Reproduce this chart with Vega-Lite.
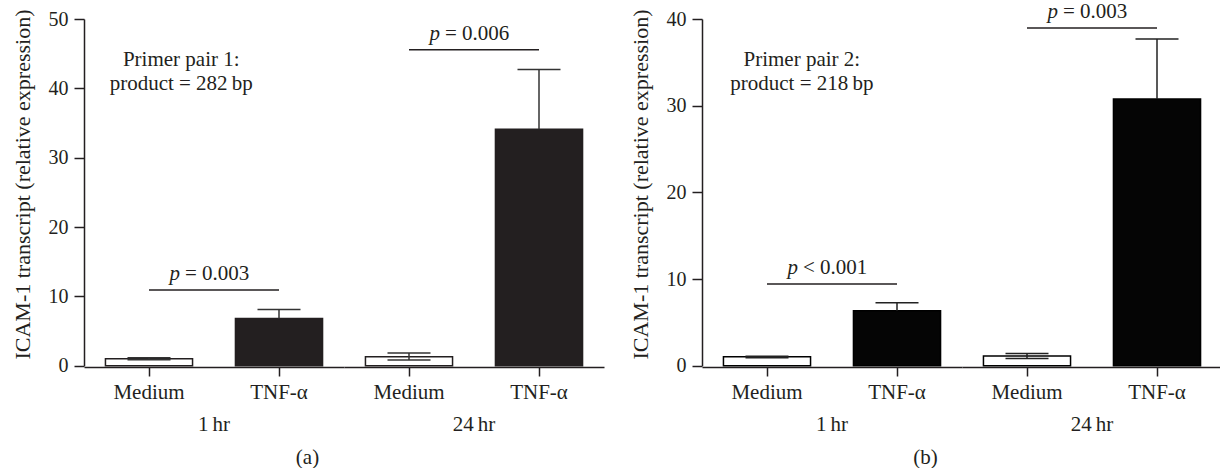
{
  "$schema": "https://vega.github.io/schema/vega-lite/v6.json",
  "padding": {"left": 11, "top": 1, "right": 0, "bottom": 0},
  "background": "white",
  "config": {
    "view": {"stroke": null},
    "font": "Liberation Serif",
    "axis": {"domainColor": "#231f20", "domainWidth": 1.5, "tickColor": "#231f20", "tickWidth": 1.5, "labelFont": "Liberation Serif", "labelFontSize": 21, "labelColor": "#231f20", "titleFont": "Liberation Serif", "titleFontSize": 21, "titleFontWeight": "normal", "titleColor": "#231f20", "grid": false},
    "axisY": {"tickSize": 10, "labelPadding": 6, "titlePadding": 14, "labelFontSize": 20, "titleFontSize": 22, "titleY": 165},
    "axisX": {"tickSize": 9, "labelPadding": 5, "labelAngle": 0},
    "header": {"labelFont": "Liberation Serif", "labelFontSize": 21, "labelColor": "#231f20"},
    "title": {"font": "Liberation Serif", "fontSize": 21, "fontWeight": "normal", "color": "#231f20"}
  },
  "spacing": 25,
  "resolve": {"scale": {"x": "independent", "y": "independent", "color": "independent"}},
  "hconcat": [
    {
      "data": {"values": [
        {"kind": "bar", "time": "1\u2009hr", "treatment": "Medium", "mean": 1.0, "lo": 0.87, "hi": 1.15},
        {"kind": "bar", "time": "1\u2009hr", "treatment": "TNF-α", "mean": 6.8, "lo": 6.8, "hi": 8.1},
        {"kind": "bar", "time": "24\u2009hr", "treatment": "Medium", "mean": 1.3, "lo": 0.82, "hi": 1.83},
        {"kind": "bar", "time": "24\u2009hr", "treatment": "TNF-α", "mean": 34.1, "lo": 34.1, "hi": 42.7},
        {"kind": "bracket", "time": "1\u2009hr", "treatment": "Medium", "to": "TNF-α", "y": 10.9, "p": "p", "label": "= 0.003"},
        {"kind": "bracket", "time": "24\u2009hr", "treatment": "Medium", "to": "TNF-α", "y": 45.55, "p": "p", "label": "= 0.006"},
        {"kind": "note", "time": "1\u2009hr", "treatment": "Medium", "y": 44.1, "note": ["Primer pair 1:", "product = 282\u2009bp"]}
      ]},
      "title": {"text": "(a)", "orient": "bottom", "anchor": "middle", "frame": "bounds", "offset": 12},
      "spacing": 0,
      "facet": {"column": {"field": "time", "type": "nominal", "sort": ["1\u2009hr", "24\u2009hr"], "header": {"title": null, "labelOrient": "bottom", "labelPadding": 12}}},
      "spec": {
        "width": 260,
        "height": 346.7,
        "layer": [
          {
            "transform": [{"filter": "datum.kind == 'bar'"}],
            "mark": {"type": "bar", "stroke": "#231f20", "strokeWidth": 1.5},
            "encoding": {
              "x": {"field": "treatment", "type": "nominal", "scale": {"domain": ["Medium", "TNF-α"], "paddingInner": 0.33, "paddingOuter": 0.165}, "axis": {"title": null}},
              "y": {"field": "mean", "type": "quantitative", "scale": {"domain": [0, 50], "nice": false}, "axis": {"title": "ICAM-1 transcript (relative expression)", "values": [0, 10, 20, 30, 40, 50]}},
              "color": {"field": "treatment", "type": "nominal", "scale": {"domain": ["Medium", "TNF-α"], "range": ["#ffffff", "#231f20"]}, "legend": null}
            }
          },
          {
            "transform": [{"filter": "datum.kind == 'bar'"}],
            "mark": {"type": "rule", "color": "#333333", "strokeWidth": 1.5},
            "encoding": {
              "x": {"field": "treatment", "type": "nominal"},
              "y": {"field": "lo", "type": "quantitative"},
              "y2": {"field": "hi"}
            }
          },
          {
            "transform": [{"filter": "datum.kind == 'bar'"}],
            "mark": {"type": "tick", "color": "#333333", "thickness": 1.5, "size": 43, "opacity": 1},
            "encoding": {
              "x": {"field": "treatment", "type": "nominal"},
              "y": {"field": "hi", "type": "quantitative"}
            }
          },
          {
            "transform": [{"filter": "datum.kind == 'bar' && datum.treatment == 'Medium'"}],
            "mark": {"type": "tick", "color": "#333333", "thickness": 1.5, "size": 43, "opacity": 1},
            "encoding": {
              "x": {"field": "treatment", "type": "nominal"},
              "y": {"field": "lo", "type": "quantitative"}
            }
          },
          {
            "transform": [{"filter": "datum.kind == 'bracket'"}],
            "mark": {"type": "rule", "color": "#231f20", "strokeWidth": 1.5},
            "encoding": {
              "x": {"field": "treatment", "type": "nominal"},
              "x2": {"field": "to"},
              "y": {"field": "y", "type": "quantitative"}
            }
          },
          {
            "transform": [{"filter": "datum.kind == 'bracket'"}],
            "mark": {"type": "text", "font": "Liberation Serif", "fontSize": 21, "color": "#231f20", "align": "left", "baseline": "alphabetic", "dy": -10, "dx": -29},
            "encoding": {
              "x": {"field": "treatment", "type": "nominal", "bandPosition": 1.246},
              "y": {"field": "y", "type": "quantitative"},
              "text": {"field": "label"}
            }
          },
          {
            "transform": [{"filter": "datum.kind == 'bracket'"}],
            "mark": {"type": "text", "font": "Liberation Serif", "fontSize": 21, "fontStyle": "italic", "color": "#231f20", "align": "right", "baseline": "alphabetic", "dy": -10, "dx": -34},
            "encoding": {
              "x": {"field": "treatment", "type": "nominal", "bandPosition": 1.246},
              "y": {"field": "y", "type": "quantitative"},
              "text": {"field": "p"}
            }
          },
          {
            "transform": [{"filter": "datum.kind == 'note'"}],
            "mark": {"type": "text", "font": "Liberation Serif", "fontSize": 21, "color": "#231f20", "align": "center", "baseline": "middle", "lineHeight": 24},
            "encoding": {
              "x": {"field": "treatment", "type": "nominal", "bandPosition": 0.87},
              "y": {"field": "y", "type": "quantitative"},
              "text": {"field": "note"}
            }
          }
        ]
      }
    },
    {
      "data": {"values": [
        {"kind": "bar", "time": "1\u2009hr", "treatment": "Medium", "mean": 1.02, "lo": 0.92, "hi": 1.1},
        {"kind": "bar", "time": "1\u2009hr", "treatment": "TNF-α", "mean": 6.35, "lo": 6.35, "hi": 7.27},
        {"kind": "bar", "time": "24\u2009hr", "treatment": "Medium", "mean": 1.12, "lo": 0.82, "hi": 1.42},
        {"kind": "bar", "time": "24\u2009hr", "treatment": "TNF-α", "mean": 30.77, "lo": 30.77, "hi": 37.7},
        {"kind": "bracket", "time": "1\u2009hr", "treatment": "Medium", "to": "TNF-α", "y": 9.42, "p": "p", "label": "< 0.001"},
        {"kind": "bracket", "time": "24\u2009hr", "treatment": "Medium", "to": "TNF-α", "y": 38.96, "p": "p", "label": "= 0.003"},
        {"kind": "note", "time": "1\u2009hr", "treatment": "Medium", "y": 35.27, "note": ["Primer pair 2:", "product = 218\u2009bp"]}
      ]},
      "title": {"text": "(b)", "orient": "bottom", "anchor": "middle", "frame": "bounds", "offset": 12},
      "spacing": 0,
      "facet": {"column": {"field": "time", "type": "nominal", "sort": ["1\u2009hr", "24\u2009hr"], "header": {"title": null, "labelOrient": "bottom", "labelPadding": 12}}},
      "spec": {
        "width": 260,
        "height": 346.7,
        "layer": [
          {
            "transform": [{"filter": "datum.kind == 'bar'"}],
            "mark": {"type": "bar", "stroke": "#000000", "strokeWidth": 1.5},
            "encoding": {
              "x": {"field": "treatment", "type": "nominal", "scale": {"domain": ["Medium", "TNF-α"], "paddingInner": 0.33, "paddingOuter": 0.165}, "axis": {"title": null}},
              "y": {"field": "mean", "type": "quantitative", "scale": {"domain": [0, 40], "nice": false}, "axis": {"title": "ICAM-1 transcript (relative expression)", "values": [0, 10, 20, 30, 40]}},
              "color": {"field": "treatment", "type": "nominal", "scale": {"domain": ["Medium", "TNF-α"], "range": ["#ffffff", "#050505"]}, "legend": null}
            }
          },
          {
            "transform": [{"filter": "datum.kind == 'bar'"}],
            "mark": {"type": "rule", "color": "#222222", "strokeWidth": 1.5},
            "encoding": {
              "x": {"field": "treatment", "type": "nominal"},
              "y": {"field": "lo", "type": "quantitative"},
              "y2": {"field": "hi"}
            }
          },
          {
            "transform": [{"filter": "datum.kind == 'bar'"}],
            "mark": {"type": "tick", "color": "#222222", "thickness": 1.5, "size": 43, "opacity": 1},
            "encoding": {
              "x": {"field": "treatment", "type": "nominal"},
              "y": {"field": "hi", "type": "quantitative"}
            }
          },
          {
            "transform": [{"filter": "datum.kind == 'bar' && datum.treatment == 'Medium'"}],
            "mark": {"type": "tick", "color": "#222222", "thickness": 1.5, "size": 43, "opacity": 1},
            "encoding": {
              "x": {"field": "treatment", "type": "nominal"},
              "y": {"field": "lo", "type": "quantitative"}
            }
          },
          {
            "transform": [{"filter": "datum.kind == 'bracket'"}],
            "mark": {"type": "rule", "color": "#231f20", "strokeWidth": 1.5},
            "encoding": {
              "x": {"field": "treatment", "type": "nominal"},
              "x2": {"field": "to"},
              "y": {"field": "y", "type": "quantitative"}
            }
          },
          {
            "transform": [{"filter": "datum.kind == 'bracket'"}],
            "mark": {"type": "text", "font": "Liberation Serif", "fontSize": 21, "color": "#231f20", "align": "left", "baseline": "alphabetic", "dy": -10, "dx": -29},
            "encoding": {
              "x": {"field": "treatment", "type": "nominal", "bandPosition": 1.246},
              "y": {"field": "y", "type": "quantitative"},
              "text": {"field": "label"}
            }
          },
          {
            "transform": [{"filter": "datum.kind == 'bracket'"}],
            "mark": {"type": "text", "font": "Liberation Serif", "fontSize": 21, "fontStyle": "italic", "color": "#231f20", "align": "right", "baseline": "alphabetic", "dy": -10, "dx": -34},
            "encoding": {
              "x": {"field": "treatment", "type": "nominal", "bandPosition": 1.246},
              "y": {"field": "y", "type": "quantitative"},
              "text": {"field": "p"}
            }
          },
          {
            "transform": [{"filter": "datum.kind == 'note'"}],
            "mark": {"type": "text", "font": "Liberation Serif", "fontSize": 21, "color": "#231f20", "align": "center", "baseline": "middle", "lineHeight": 24},
            "encoding": {
              "x": {"field": "treatment", "type": "nominal", "bandPosition": 0.9},
              "y": {"field": "y", "type": "quantitative"},
              "text": {"field": "note"}
            }
          }
        ]
      }
    }
  ]
}
